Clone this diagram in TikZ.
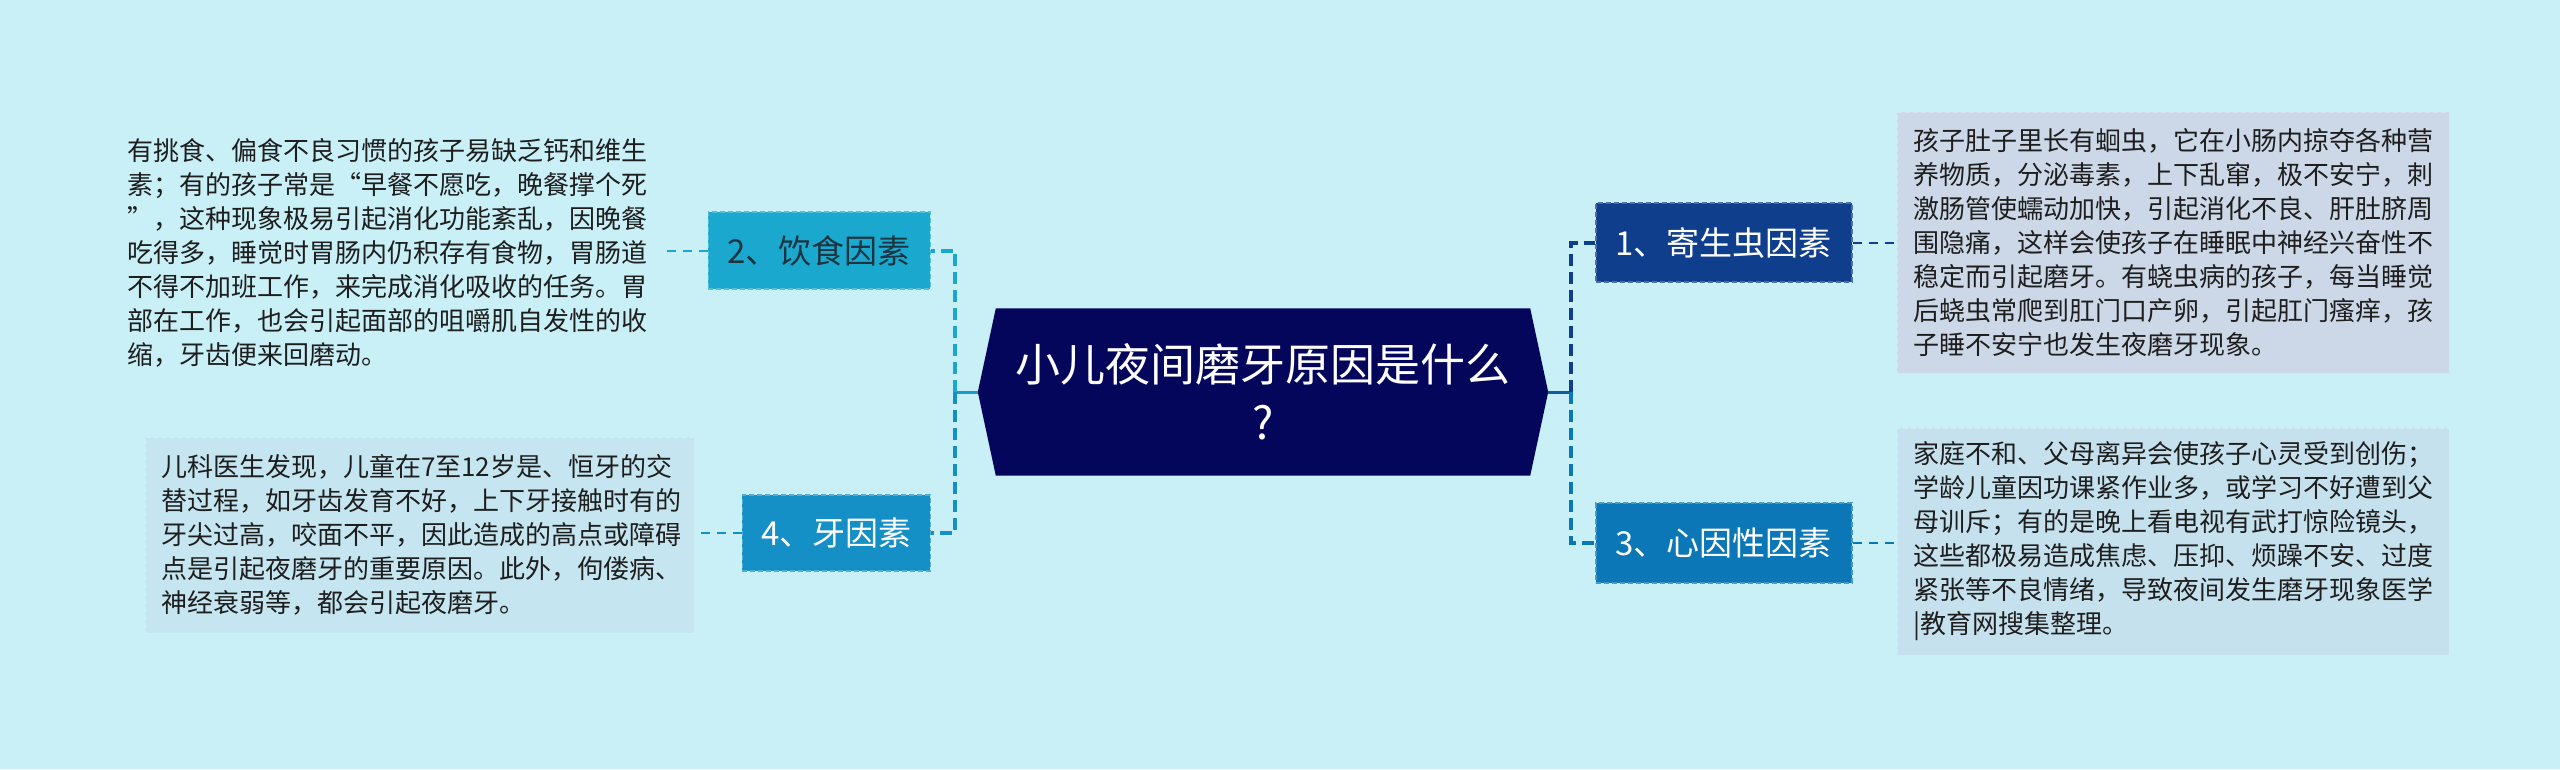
\documentclass[tikz,border=0pt]{standalone}
\usepackage{fontspec}
\setmainfont{Noto Sans CJK SC}
\usetikzlibrary{calc}
\pgfdeclarelayer{back}
\pgfsetlayers{back,main}
\definecolor{bg}{HTML}{C9EFF7}
\definecolor{navy}{HTML}{03065A}
\definecolor{cA}{HTML}{1BA8CF}
\definecolor{cB}{HTML}{1590C6}
\definecolor{cC}{HTML}{0F3F8C}
\definecolor{cD}{HTML}{0B77B7}
\definecolor{boxRone}{HTML}{CCD8E8}
\definecolor{boxRthree}{HTML}{C6E1EE}
\definecolor{boxLfour}{HTML}{C5E5F0}
\definecolor{txt}{HTML}{1E1E1E}
\definecolor{darktxt}{HTML}{1B3440}
\begin{document}
\begin{tikzpicture}[x=1pt,y=-1pt,
 topic/.style={inner sep=0pt, font=\fontsize{33}{40}\selectfont, draw, dash pattern=on 5pt off 3pt, line width=1.5pt},
 detail/.style={inner xsep=16pt, inner ysep=0pt, text width=520pt, align=left, font=\fontsize{26}{34}\selectfont, text=txt, dash pattern=on 5pt off 3pt, line width=1pt},
 link/.style={line width=2pt, dash pattern=on 9pt off 7pt},
 spine/.style={line width=4pt, dash pattern=on 12pt off 6pt},
]
\useasboundingbox (0,0) rectangle (2560,769);

% root
\node[minimum width=570pt, minimum height=167pt, inner sep=0pt, text=white, align=center,
      font=\fontsize{45}{58}\selectfont] (root) at (1263,392) {小儿夜间磨牙原因是什么\\?};
\begin{pgfonlayer}{back}
\fill[bg] (0,0) rectangle (2560,769);
\fill[navy] (root.west) -- ($(root.north west)+(18,0)$) -- ($(root.north east)+(-18,0)$)
  -- (root.east) -- ($(root.south east)+(-18,0)$) -- ($(root.south west)+(18,0)$) -- cycle;
\end{pgfonlayer}

% topics
\node[topic, fill=cA, draw=cA!75!white, text=darktxt, minimum width=222pt, minimum height=77pt, anchor=east] (n2) at (931,250.5) {2、饮食因素};
\node[topic, fill=cB, draw=cB!75!white, text=white, minimum width=188pt, minimum height=76pt, anchor=east] (n4) at (931,533) {4、牙因素};
\node[topic, fill=cC, draw=cC!75!white, text=white, minimum width=256pt, minimum height=79pt, anchor=west] (n1) at (1595,242.5) {1、寄生虫因素};
\node[topic, fill=cD, draw=cD!75!white, text=white, minimum width=256pt, minimum height=80pt, anchor=west] (n3) at (1595,543) {3、心因性因素};

% details
\node[detail, minimum height=261pt] (t2) at (387,253) {有挑食、偏食不良习惯的孩子易缺乏钙和维生\\素；有的孩子常是“早餐不愿吃，晚餐撑个死\\”，这种现象极易引起消化功能紊乱，因晚餐\\吃得多，睡觉时胃肠内仍积存有食物，胃肠道\\不得不加班工作，来完成消化吸收的任务。胃\\部在工作，也会引起面部的咀嚼肌自发性的收\\缩，牙齿便来回磨动。};
\node[detail, fill=boxLfour, draw=boxLfour!70!white, minimum height=196pt, text width=517pt] (t4) at (419.5,535) {儿科医生发现，儿童在7至12岁是、恒牙的交\\替过程，如牙齿发育不好，上下牙接触时有的\\牙尖过高，咬面不平，因此造成的高点或障碍\\点是引起夜磨牙的重要原因。此外，佝偻病、\\神经衰弱等，都会引起夜磨牙。};
\node[detail, fill=boxRone, draw=boxRone!70!white, minimum height=261pt] (t1) at (2173,242.5) {孩子肚子里长有蛔虫，它在小肠内掠夺各种营\\养物质，分泌毒素，上下乱窜，极不安宁，刺\\激肠管使蠕动加快，引起消化不良、肝肚脐周\\围隐痛，这样会使孩子在睡眠中神经兴奋性不\\稳定而引起磨牙。有蛲虫病的孩子，每当睡觉\\后蛲虫常爬到肛门口产卵，引起肛门瘙痒，孩\\子睡不安宁也发生夜磨牙现象。};
\node[detail, fill=boxRthree, draw=boxRthree!70!white, minimum height=227pt] (t3) at (2173,541.5) {家庭不和、父母离异会使孩子心灵受到创伤；\\学龄儿童因功课紧作业多，或学习不好遭到父\\母训斥；有的是晚上看电视有武打惊险镜头，\\这些都极易造成焦虑、压抑、烦躁不安、过度\\紧张等不良情绪，导致夜间发生磨牙现象医学\\|教育网搜集整理。};

% spines
\coordinate (sL) at (955,392);
\coordinate (sR) at (1571,392);
\draw[line width=3pt, cA!50!cB] (root.west) -- (sL);
\draw[line width=3pt, cA!50!cB] ($(sL)+(0,-9)$) -- ($(sL)+(0,9)$);
\draw[spine, cA] (sL) |- (n2.east);
\draw[spine, cB] (sL) |- (n4.east);
\draw[line width=3pt, cC!50!cD] (root.east) -- (sR);
\draw[line width=3pt, cC!50!cD] ($(sR)+(0,-9)$) -- ($(sR)+(0,9)$);
\draw[spine, cC] (sR) |- (n1.west);
\draw[spine, cD] (sR) |- (n3.west);

% links to details
\draw[link, cA] (n2.west) -- (n2.west -| t2.east);
\draw[link, cB] (n4.west) -- (n4.west -| t4.east);
\draw[link, cC] (n1.east) -- (n1.east -| t1.west);
\draw[link, cD] (n3.east) -- (n3.east -| t3.west);
\end{tikzpicture}
\end{document}
